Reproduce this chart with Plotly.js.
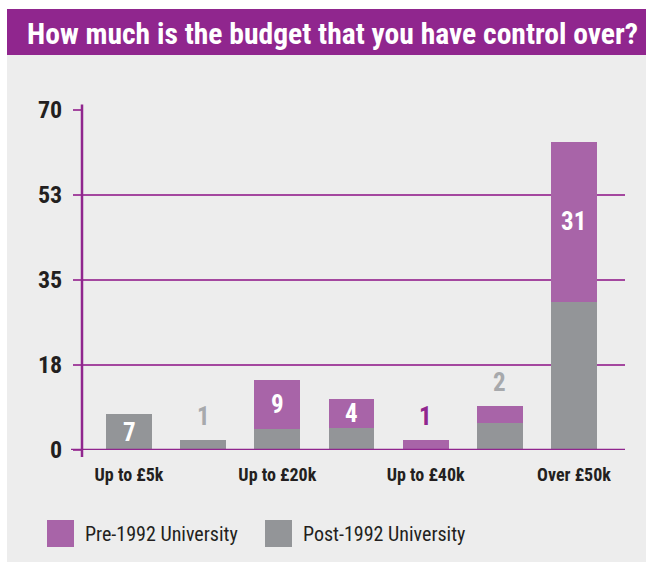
<!DOCTYPE html>
<html>
<head>
<meta charset="utf-8">
<script src="https://cdn.plot.ly/plotly-3.0.1.min.js"></script>
<style>
  html, body { margin: 0; padding: 0; background: #ffffff; width: 646px; height: 562px; overflow: hidden; }
  #chart { position: absolute; left: 7px; top: 9px; width: 639px; height: 553px; }
</style>
</head>
<body>
<div id="chart"></div>
<script>
// ---- data ----
const categories = ['Up to £5k', 'Up to £10k', 'Up to £20k', 'Up to £30k', 'Up to £40k', 'Up to £50k', 'Over £50k'];
const tickCategories = ['Up to £5k', 'Up to £20k', 'Up to £40k', 'Over £50k'];
const postName = 'Post-1992 University';
const preName = 'Pre-1992 University';
const post1992 = [7.4, 2.1, 4.3, 4.5, 0, 5.6, 30.5];
const pre1992 = [0, 0, 10.1, 6.0, 2.1, 3.5, 32.9];
const labelText = ['7', '1', '9', '4', '1', '2', '31'];
const labelSeries = ['post', 'post', 'pre', 'pre', 'pre', 'post', 'pre'];
const yTickVals = [0, 17.5, 35, 52.5, 70];
const yTickText = ['0', '18', '35', '53', '70'];
const titleText = 'How much is the budget that you have control over?';

// ---- styles ----
const FONT = '"Roboto Condensed", "Liberation Sans Narrow", "Lato", sans-serif';
const PURPLE_DARK = '#90268e';
const PURPLE_BAR = '#a864a8';
const GRAY_BAR = '#939598';
const GRAY_LABEL = '#a7a9ac';
const BG = '#ededed';
const TEXT = '#231f20';
const GRID = '#a4479f';

const traces = [
  { type: 'bar', name: postName, x: categories, y: post1992, marker: { color: GRAY_BAR }, hoverinfo: 'x+y+name' },
  { type: 'bar', name: preName, x: categories, y: pre1992, marker: { color: PURPLE_BAR }, hoverinfo: 'x+y+name' }
];

// value labels: inside segment if tall enough, otherwise above the stack
const annotations = [];
categories.forEach((c, i) => {
  const isPost = labelSeries[i] === 'post';
  const seg = isPost ? post1992[i] : pre1992[i];
  const base = isPost ? 0 : post1992[i];
  const total = post1992[i] + pre1992[i];
  const inside = seg >= 5.8;
  annotations.push({
    x: c, y: inside ? base + seg / 2 : total,
    xref: 'x', yref: 'y',
    text: '<b>' + labelText[i] + '</b>',
    showarrow: false,
    xanchor: 'center', yanchor: 'middle',
    yshift: inside ? 0 : 23,
    font: { family: FONT, size: 25, color: inside ? '#ffffff' : (isPost ? GRAY_LABEL : PURPLE_DARK) }
  });
});

// plot geometry helpers (div pixel -> paper)
const M = { l: 75, r: 21, t: 101, b: 112 };
const W = 639, H = 553;
const PW = W - M.l - M.r, PH = H - M.t - M.b;
const px = x => (x - M.l) / PW;
const py = y => (H - M.b - y) / PH;

// custom legend
const legendItems = [
  { name: preName, color: PURPLE_BAR, x: 40 },
  { name: postName, color: GRAY_BAR, x: 258 }
];
const shapes = [
  // title bar
  { type: 'rect', xref: 'paper', yref: 'paper', x0: px(0), x1: px(W), y0: py(46), y1: py(0),
    fillcolor: PURPLE_DARK, line: { width: 0 }, layer: 'below' },
  // y axis line (extends beyond range)
  { type: 'line', xref: 'paper', yref: 'paper', x0: 0, x1: 0, y0: py(448), y1: py(95.5),
    line: { color: PURPLE_DARK, width: 2.5 } },
  // zero line
  { type: 'line', xref: 'paper', yref: 'y', x0: px(64), x1: 1, y0: 0, y1: 0,
    line: { color: PURPLE_DARK, width: 2.5 } }
];
legendItems.forEach(it => {
  shapes.push({ type: 'rect', xref: 'paper', yref: 'paper',
    x0: px(it.x), x1: px(it.x + 27), y0: py(538), y1: py(511),
    fillcolor: it.color, line: { width: 0 } });
  annotations.push({ xref: 'paper', yref: 'paper', x: px(it.x + 36), y: py(524.5),
    xanchor: 'left', yanchor: 'middle', showarrow: false, text: it.name,
    font: { family: FONT, size: 20, color: TEXT } });
});

const layout = {
  width: W, height: H,
  margin: M,
  paper_bgcolor: BG,
  plot_bgcolor: BG,
  barmode: 'stack',
  bargap: 0.38,
  showlegend: false,
  title: {
    text: '<b>' + titleText + '</b>',
    xref: 'container', yref: 'container',
    x: 20 / W, xanchor: 'left',
    y: 1 - 25 / H, yanchor: 'middle',
    font: { family: FONT, size: 29.6, color: '#ffffff' }
  },
  xaxis: {
    type: 'category',
    range: [-0.634, 6.688],
    tickmode: 'array',
    tickvals: tickCategories,
    ticktext: tickCategories.map(t => '<b>' + t + '</b>'),
    ticks: '',
    showgrid: false,
    showline: false,
    zeroline: false,
    ticklabelstandoff: 12,
    tickfont: { family: FONT, size: 18, color: TEXT }
  },
  yaxis: {
    range: [0, 70],
    tickmode: 'array',
    tickvals: yTickVals,
    ticktext: yTickText.map(t => '<b>' + t + '</b>'),
    ticks: 'outside',
    ticklen: 8,
    tickwidth: 1.2,
    tickcolor: GRID,
    showgrid: true,
    gridcolor: GRID,
    gridwidth: 1.2,
    zeroline: false,
    showline: false,
    ticklabelstandoff: 6,
    tickfont: { family: FONT, size: 24, color: TEXT }
  },
  annotations: annotations,
  shapes: shapes
};

Plotly.newPlot('chart', traces, layout, { displayModeBar: false, staticPlot: true });
</script>
</body>
</html>
